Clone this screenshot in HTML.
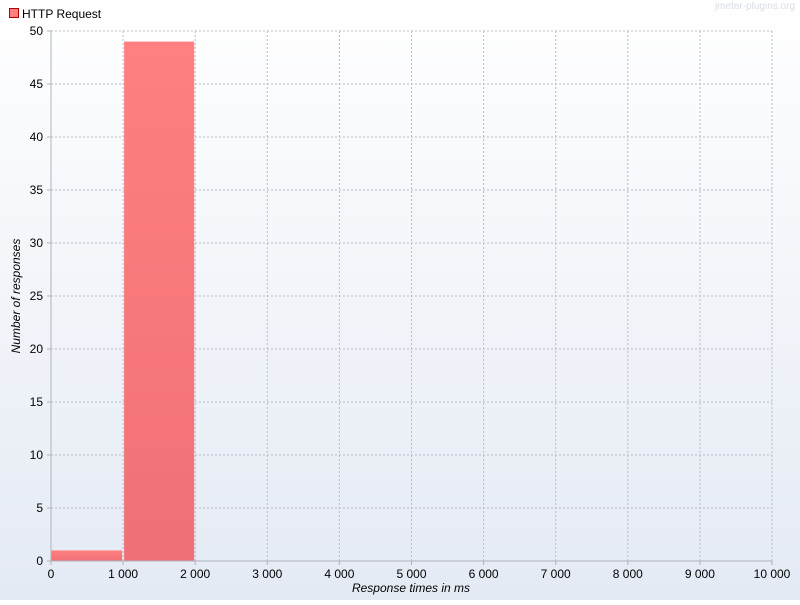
<!DOCTYPE html>
<html><head><meta charset="utf-8"><style>
body{margin:0;width:800px;height:600px;overflow:hidden;font-family:"Liberation Sans",sans-serif;}
</style></head><body>
<svg id="c" width="800" height="600" xmlns="http://www.w3.org/2000/svg">
<defs>
<linearGradient id="bg" x1="0" y1="0" x2="0" y2="1"><stop offset="0" stop-color="#ffffff"/><stop offset="1" stop-color="#e4eaf4"/></linearGradient>
<linearGradient id="bar" x1="0" y1="0" x2="0" y2="1"><stop offset="0" stop-color="#ff8080"/><stop offset="1" stop-color="#f07078"/></linearGradient>
</defs>
<rect width="800" height="600" fill="url(#bg)"/>
<g id="grid"></g>
<g id="bars"></g>
<g id="axes"></g>
<g>
<rect x="9.5" y="8.5" width="9" height="9" fill="#ff8080" stroke="#b00000"/>
<text x="22" y="18" font-size="12" fill="#000">HTTP Request</text>
</g>
<text x="795" y="9" font-size="10" fill="#d8dde6" text-anchor="end">jmeter-plugins.org</text>
<text x="411" y="592" font-size="12" font-style="italic" text-anchor="middle">Response times in ms</text>
<text transform="translate(20,296) rotate(-90)" font-size="12" font-style="italic" text-anchor="middle">Number of responses</text>
</svg>
<script>
const binStarts=[0,1000];
const binWidth=1000;
const counts=[1,49];
const xTicks=[0,1000,2000,3000,4000,5000,6000,7000,8000,9000,10000];
const yTicks=[0,5,10,15,20,25,30,35,40,45,50];
const L=51,R=772,T=31,B=561;
const xs=v=>L+(v-0)/(10000)*(R-L);
const ys=v=>B-v/50*(B-T);
const NS="http://www.w3.org/2000/svg";
function mk(tag,attrs,parent){const e=document.createElementNS(NS,tag);for(const k in attrs)e.setAttribute(k,attrs[k]);document.getElementById(parent).appendChild(e);return e;}
const fmt=v=>String(v).replace(/\B(?=(\d{3})+(?!\d))/g," ");
xTicks.forEach(t=>{
 const x=xs(t);
 if(t>0){const g=mk('line',{x1:x,x2:x,y1:T,y2:B,stroke:'#b8bcc4','stroke-dasharray':'2,2'},'grid');
 
 }
 const tk=mk('line',{x1:x,x2:x,y1:B,y2:B+4,stroke:'#b0b4bc'},'axes');
 
 
 const tx=mk('text',{x:x,y:B+17,'font-size':12,'text-anchor':'middle',fill:'#000'},'axes');
 tx.textContent=fmt(t);
 
 
});
yTicks.forEach(t=>{
 const y=ys(t);
 if(t>0){const g=mk('line',{x1:L,x2:R,y1:y,y2:y,stroke:'#b8bcc4','stroke-dasharray':'2,2'},'grid');
 
 }
 const tk=mk('line',{x1:L-4,x2:L,y1:y,y2:y,stroke:'#b0b4bc'},'axes');
 
 
 const tx=mk('text',{x:L-8,y:y+4,'font-size':12,'text-anchor':'end',fill:'#000'},'axes');
 tx.textContent=t;
 
 
});
const ax=mk('line',{x1:L,x2:L,y1:T,y2:B,stroke:'#b0b4bc'},'axes');


const ax2=mk('line',{x1:L,x2:R,y1:B,y2:B,stroke:'#b0b4bc'},'axes');


binStarts.forEach((s,i)=>{
 const x0=xs(s)+(i>0?1:0),x1=xs(s+binWidth)-1;
 const b=mk('rect',{x:x0,y:ys(counts[i]),width:x1-x0,height:B-ys(counts[i]),fill:'url(#bar)'},'bars');
 
 
});
</script>
</body></html>
